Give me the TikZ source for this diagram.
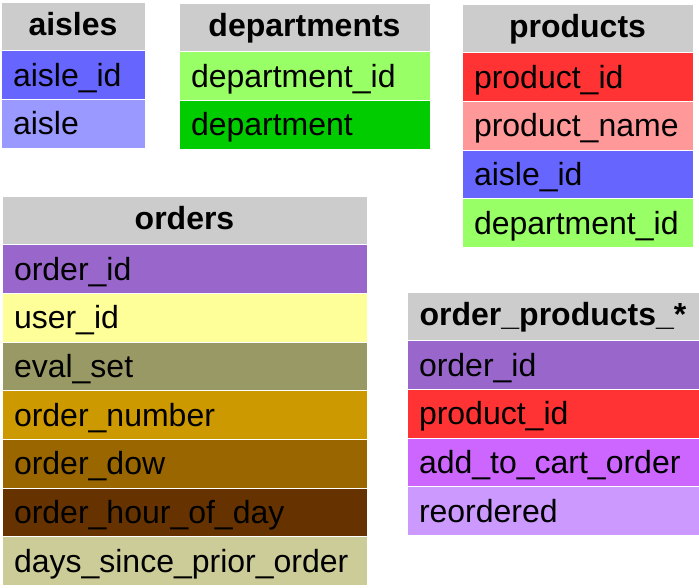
\documentclass[tikz,border=0pt]{standalone}
\usepackage{fontspec}
\setmainfont{Liberation Sans}
\usepackage{xcolor}
\usepackage{tikz}
\usetikzlibrary{positioning}

\definecolor{headgray}{HTML}{CCCCCC}
\definecolor{aisleid}{HTML}{6666FF}
\definecolor{aislecol}{HTML}{9999FF}
\definecolor{deptid}{HTML}{99FF66}
\definecolor{deptcol}{HTML}{00CC00}
\definecolor{prodid}{HTML}{FF3333}
\definecolor{prodname}{HTML}{FF9999}
\definecolor{orderid}{HTML}{9966CC}
\definecolor{userid}{HTML}{FFFF99}
\definecolor{evalset}{HTML}{999966}
\definecolor{ordernum}{HTML}{CC9900}
\definecolor{orderdow}{HTML}{996600}
\definecolor{orderhour}{HTML}{663300}
\definecolor{dayssince}{HTML}{CCCC99}
\definecolor{addcart}{HTML}{CC66FF}
\definecolor{reord}{HTML}{CC99FF}

\begin{document}
\begin{tikzpicture}[
  x=1pt, y=-1pt,
  field/.style={rectangle, draw=white, line width=1pt, outer sep=0pt, minimum height=48.7pt, inner xsep=12pt, inner ysep=0pt, align=left, text height=23pt, text depth=1pt, font=\fontsize{32}{36}\selectfont},
  head/.style={field, fill=headgray, align=center, text height=20pt, font=\fontsize{32}{36}\selectfont\bfseries}
]
\useasboundingbox (0,0) rectangle (699,587);

% aisles
\begin{scope}[every node/.append style={text width=120pt}]
\node[head, anchor=north west] (ais) at (1,2) {aisles};
\node[field, fill=aisleid, below=0pt of ais] (ais1) {aisle\_id};
\node[field, fill=aislecol, below=0pt of ais1] (ais2) {aisle};
\end{scope}

% departments
\begin{scope}[every node/.append style={text width=227pt}]
\node[head, anchor=north west] (dep) at (179,3) {departments};
\node[field, fill=deptid, below=0pt of dep] (dep1) {department\_id};
\node[field, fill=deptcol, below=0pt of dep1] (dep2) {department};
\end{scope}

% products
\begin{scope}[every node/.append style={text width=207pt}]
\node[head, anchor=north west] (prod) at (462,4) {products};
\node[field, fill=prodid, below=0pt of prod] (prod1) {product\_id};
\node[field, fill=prodname, below=0pt of prod1] (prod2) {product\_name};
\node[field, fill=aisleid, below=0pt of prod2] (prod3) {aisle\_id};
\node[field, fill=deptid, below=0pt of prod3] (prod4) {department\_id};
\end{scope}

% orders
\begin{scope}[every node/.append style={text width=341pt}]
\node[head, anchor=north west] (ord) at (2,196) {orders};
\node[field, fill=orderid, below=0pt of ord] (ord1) {order\_id};
\node[field, fill=userid, below=0pt of ord1] (ord2) {user\_id};
\node[field, fill=evalset, below=0pt of ord2] (ord3) {eval\_set};
\node[field, fill=ordernum, below=0pt of ord3] (ord4) {order\_number};
\node[field, fill=orderdow, below=0pt of ord4] (ord5) {order\_dow};
\node[field, fill=orderhour, below=0pt of ord5] (ord6) {order\_hour\_of\_day};
\node[field, fill=dayssince, below=0pt of ord6] (ord7) {days\_since\_prior\_order};
\end{scope}

% order_products_*
\begin{scope}[every node/.append style={text width=268pt}]
\node[head, anchor=north west] (op) at (407,292) {order\_products\_*};
\node[field, fill=orderid, below=0pt of op] (op1) {order\_id};
\node[field, fill=prodid, below=0pt of op1] (op2) {product\_id};
\node[field, fill=addcart, below=0pt of op2] (op3) {add\_to\_cart\_order};
\node[field, fill=reord, below=0pt of op3] (op4) {reordered};
\end{scope}

\end{tikzpicture}
\end{document}
